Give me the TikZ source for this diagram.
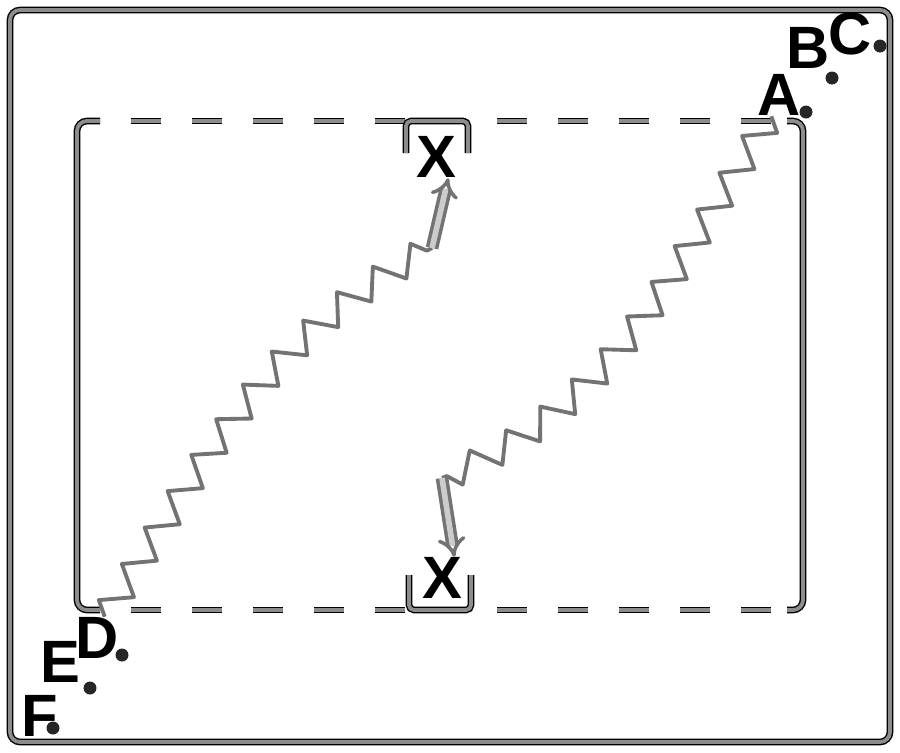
\documentclass[tikz,border=0pt]{standalone}
\usepackage{fontspec}
\setmainfont{Liberation Sans}
\usetikzlibrary{arrows.meta,decorations.pathmorphing}

\begin{document}
\begin{tikzpicture}[
		gline/.style={draw=black, line width=0.4pt, double=black!45, double distance=1.1pt, rounded corners=1mm},
		dline/.style={gline, rounded corners=0pt, dash pattern=on 3mm off 3.1mm, dash phase=3mm},
		dot/.style={circle, fill=black!85, inner sep=0pt, minimum size=1.3mm},
		lbl/.style={inner sep=0pt, font=\fontsize{17}{20}\selectfont\bfseries},
		wave/.style={draw=black!55, line width=1.1pt, line join=round, decorate,
			decoration={zigzag, segment length=4.3mm, amplitude=1.4mm}},
		dblarrow/.style={draw=black!55, line width=1pt, double=black!20, double distance=1.6pt, -{Implies}}
	]
	\useasboundingbox (0,0) rectangle (9,7.52);
	% frame
	\draw[gline] (0.10,0.10) rectangle (8.90,7.42);
	% inner box
	\draw[gline] (1.00,6.31) -- (0.77,6.31) -- (0.77,1.42) -- (1.00,1.42);
	\draw[gline] (7.87,6.31) -- (8.03,6.31) -- (8.03,1.42) -- (7.87,1.42);
	\draw[dline] (1.00,6.31) -- (7.87,6.31);
	\draw[dline] (1.00,1.42) -- (7.87,1.42);
	\draw[gline, rounded corners=0.5mm] (4.06,5.99) -- (4.06,6.31) -- (4.68,6.31) -- (4.68,5.99);
	\draw[gline, rounded corners=0.5mm] (4.09,1.77) -- (4.09,1.42) -- (4.71,1.42) -- (4.71,1.77);
	\node[lbl] (x1) at (4.36,5.95) {X};
	\node[lbl] (x2) at (4.42,1.74) {X};
	% points
	\node[dot] (a) at (8.06,6.40) {};
	\node[dot] (b) at (8.32,6.74) {};
	\node[dot] (c) at (8.80,7.06) {};
	\node[dot] (d) at (1.22,0.97) {};
	\node[dot] (e) at (0.90,0.64) {};
	\node[dot] (f) at (0.53,0.24) {};
	\node[lbl] (la) at ([shift={(-0.27,0.17)}]a) {A};
	\node[lbl] (lb) at ([shift={(-0.24,0.30)}]b) {B};
	\node[lbl] (lc) at ([shift={(-0.30,0.12)}]c) {C};
	\node[lbl] (ld) at ([shift={(-0.25,0.17)}]d) {D};
	\node[lbl] (le) at ([shift={(-0.30,0.26)}]e) {E};
	\node[lbl] (lf) at ([shift={(-0.13,0.12)}]f) {F};
	% waves
	\coordinate (zd) at (4.32,5.04);
	\coordinate (za) at (4.42,2.74);
	\draw[wave] (ld.70) to[out=57, in=208] (zd);
	\draw[wave] (la.250) to[out=237, in=22] (za);
	\draw[dblarrow] (zd) -- (x1.-60);
	\draw[dblarrow] (za) -- (x2.60);
\end{tikzpicture}
\end{document}
